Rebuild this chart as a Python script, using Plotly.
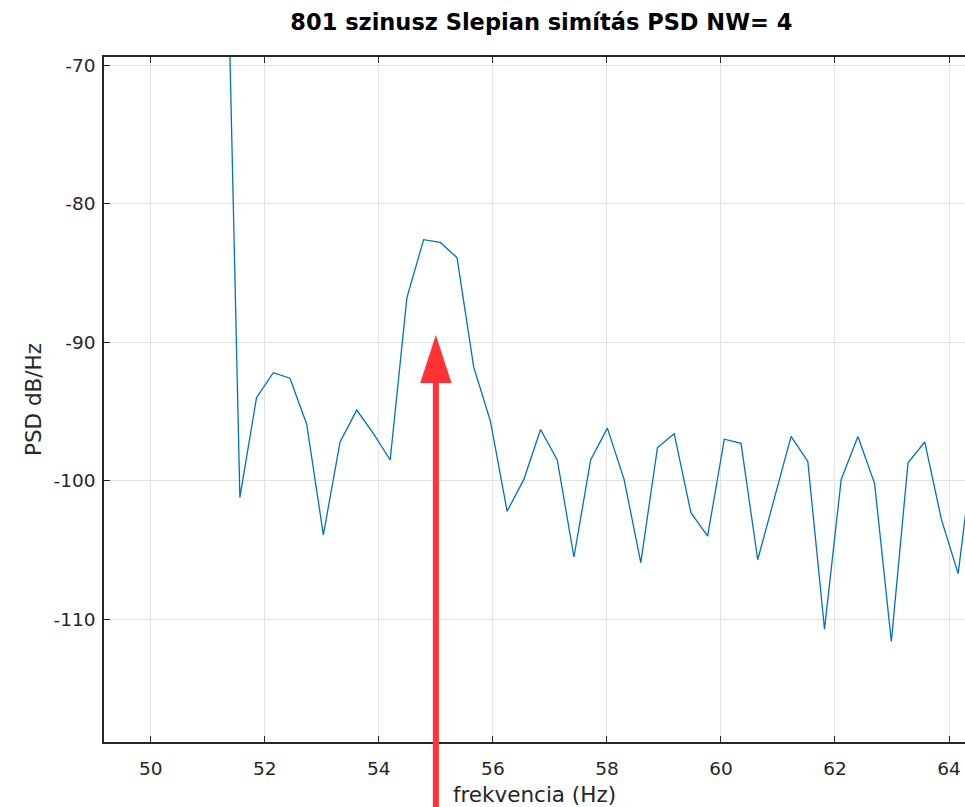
import plotly.graph_objects as go

# frequency bins (Hz) and PSD values (dB/Hz)
freq = [51.270, 51.563, 51.855, 52.148, 52.441, 52.734, 53.027, 53.320, 53.613,
        53.906, 54.199, 54.492, 54.785, 55.078, 55.371, 55.664, 55.957, 56.250,
        56.543, 56.836, 57.129, 57.422, 57.715, 58.008, 58.301, 58.594, 58.887,
        59.180, 59.473, 59.766, 60.059, 60.352, 60.645, 60.938, 61.230, 61.523,
        61.816, 62.109, 62.402, 62.695, 62.988, 63.281, 63.574, 63.867, 64.160,
        64.453]
psd = [-47.6, -101.2, -94.0, -92.2, -92.6, -95.9, -103.9, -97.2, -94.9,
       -96.6, -98.5, -86.8, -82.6, -82.8, -83.9, -91.8, -95.7, -102.2,
       -99.9, -96.3, -98.5, -105.5, -98.5, -96.2, -99.9, -105.9, -97.6,
       -96.6, -102.3, -104.0, -97.0, -97.3, -105.7, -101.2, -96.8, -98.6,
       -110.7, -99.9, -96.8, -100.2, -111.6, -98.7, -97.2, -102.8, -106.7,
       -97.0]

x_ticks = [50, 52, 54, 56, 58, 60, 62, 64]
y_ticks = [-70, -80, -90, -100, -110]

arrow_x = 55.0  # Hz, marked frequency

fig = go.Figure()
fig.add_trace(go.Scatter(x=freq, y=psd, mode="lines",
                         line=dict(color="#0072BD", width=1.3),
                         showlegend=False, hoverinfo="skip"))

axis_common = dict(showline=True, linecolor="#262626", linewidth=1.5,
                   ticks="inside", tickcolor="#262626", ticklen=6, tickwidth=1.2,
                   showgrid=True, gridcolor="#e3e3e3", gridwidth=1,
                   zeroline=False,
                   tickfont=dict(family="DejaVu Sans", size=18.5, color="#262626"))

fig.update_xaxes(range=[49.18, 64.28], tickvals=x_ticks,
                 ticktext=[str(v) for v in x_ticks], mirror="ticks",
                 title=dict(text="frekvencia (Hz)",
                            font=dict(family="DejaVu Sans", size=21.5, color="#262626"),
                            standoff=9),
                 ticklabelstandoff=9, **axis_common)
fig.update_yaxes(range=[-118.85, -69.42], tickvals=y_ticks,
                 ticktext=[str(v) for v in y_ticks],
                 title=dict(text="PSD dB/Hz",
                            font=dict(family="DejaVu Sans", size=21.5, color="#262626"),
                            standoff=6),
                 ticklabelstandoff=3, **axis_common)

# red arrow pointing at the marked frequency
red = "#ff3333"
fig.add_shape(type="line", xref="x", yref="paper", x0=arrow_x, x1=arrow_x,
              y0=-0.12, y1=0.53, line=dict(color=red, width=6), layer="above")
hw = 0.275
fig.add_shape(type="path", xref="x", yref="paper",
              path=f"M {arrow_x - hw} 0.524 L {arrow_x + hw} 0.524 L {arrow_x} 0.594 Z",
              fillcolor=red, line=dict(color=red, width=0), layer="above")

fig.update_layout(
    width=965, height=807,
    margin=dict(l=104, r=0, t=57, b=65),
    plot_bgcolor="white", paper_bgcolor="white",
    title=dict(text="<b>801 szinusz Slepian simítás PSD NW= 4</b>",
               font=dict(family="DejaVu Sans", size=22.5, color="black"),
               x=0.561, xanchor="center", y=0.972, yanchor="middle"),
)

fig.write_html("out.html")
